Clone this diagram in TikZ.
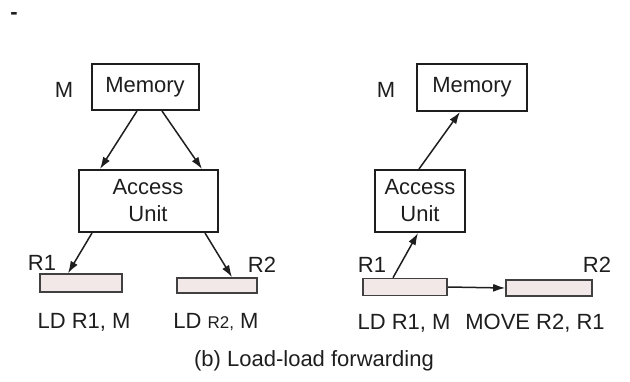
\documentclass[tikz,border=0pt]{standalone}
\usepackage{fontspec}
\setmainfont{Liberation Sans}
\usetikzlibrary{arrows.meta,calc}

\definecolor{ink}{RGB}{30,30,30}
\definecolor{regfill}{RGB}{242,232,232}

\tikzset{
  unitbox/.style={draw=ink, line width=2pt, inner sep=0pt, align=center},
  regbox/.style={draw=ink!85, fill=regfill, line width=1.6pt, inner sep=0pt},
  flow/.style={draw=ink, line width=1.5pt, -{Latex[length=12pt,width=8pt]}},
  lbl/.style={inner sep=0pt}
}

\begin{document}
\begin{tikzpicture}[x=1pt, y=-1pt, font=\fontsize{22}{27}\selectfont, text=ink]
  \useasboundingbox (0,0) rectangle (630,381);

  \node[lbl, font=\bfseries\fontsize{22}{27}\selectfont] (dash) at (14,16) {-};

  % links: Load-load
  \node[unitbox, minimum width=107, minimum height=46] (mem1) at (145,87) {Memory};
  \node[lbl] (m1) at (64,90) {M};
  \node[unitbox, minimum width=139, minimum height=62] (acc1) at (148,201) {Access\\Unit};
  \node[regbox, minimum width=82, minimum height=18] (reg1) at (81,283) {};
  \node[regbox, minimum width=80, minimum height=15] (reg2) at (217,285.5) {};
  \node[lbl] (r1a) at (42,263) {R1};
  \node[lbl] (r2a) at (262,265) {R2};
  \node[lbl] (ld1) at (84,322) {LD R1, M};
  \node[lbl] (ld2) at (216,322) {LD {\fontsize{17}{20}\selectfont R2,} M};

  \draw[flow] ($(mem1.south)+(-8,0)$) -- ($(acc1.north)+(-48,0)$);
  \draw[flow] ($(mem1.south)+(17,0)$) -- ($(acc1.north)+(54,0)$);
  \draw[flow] ($(acc1.south)+(-56,0)$) -- ($(reg1.north)+(-13,0)$);
  \draw[flow] ($(acc1.south)+(57,0)$) -- ($(reg2.north)+(15,0)$);

  % rechts: Forwarding
  \node[unitbox, minimum width=110, minimum height=47] (mem2) at (472,87.5) {Memory};
  \node[lbl] (m2) at (386,90) {M};
  \node[unitbox, minimum width=90, minimum height=62] (acc2) at (420,201) {Access\\Unit};
  \node[regbox, minimum width=84, minimum height=17] (reg3) at (405,287) {};
  \node[regbox, minimum width=86, minimum height=16] (reg4) at (549,288) {};
  \node[lbl] (r1b) at (372,265) {R1};
  \node[lbl] (r2b) at (597,265) {R2};
  \node[lbl] (ld3) at (404,323) {LD R1, M};
  \node[lbl] (mv) at (535,323) {MOVE R2, R1};

  \draw[flow] ($(acc2.north)+(-1,0)$) -- ($(mem2.south)+(-12,0)$);
  \draw[flow] ($(reg3.north)+(-12,0)$) -- ($(acc2.south)+(-2,0)$);
  \draw[flow] (reg3.east) -- (reg4.west);

  \node[lbl] (cap) at (314,361) {(b) Load-load forwarding};
\end{tikzpicture}
\end{document}
